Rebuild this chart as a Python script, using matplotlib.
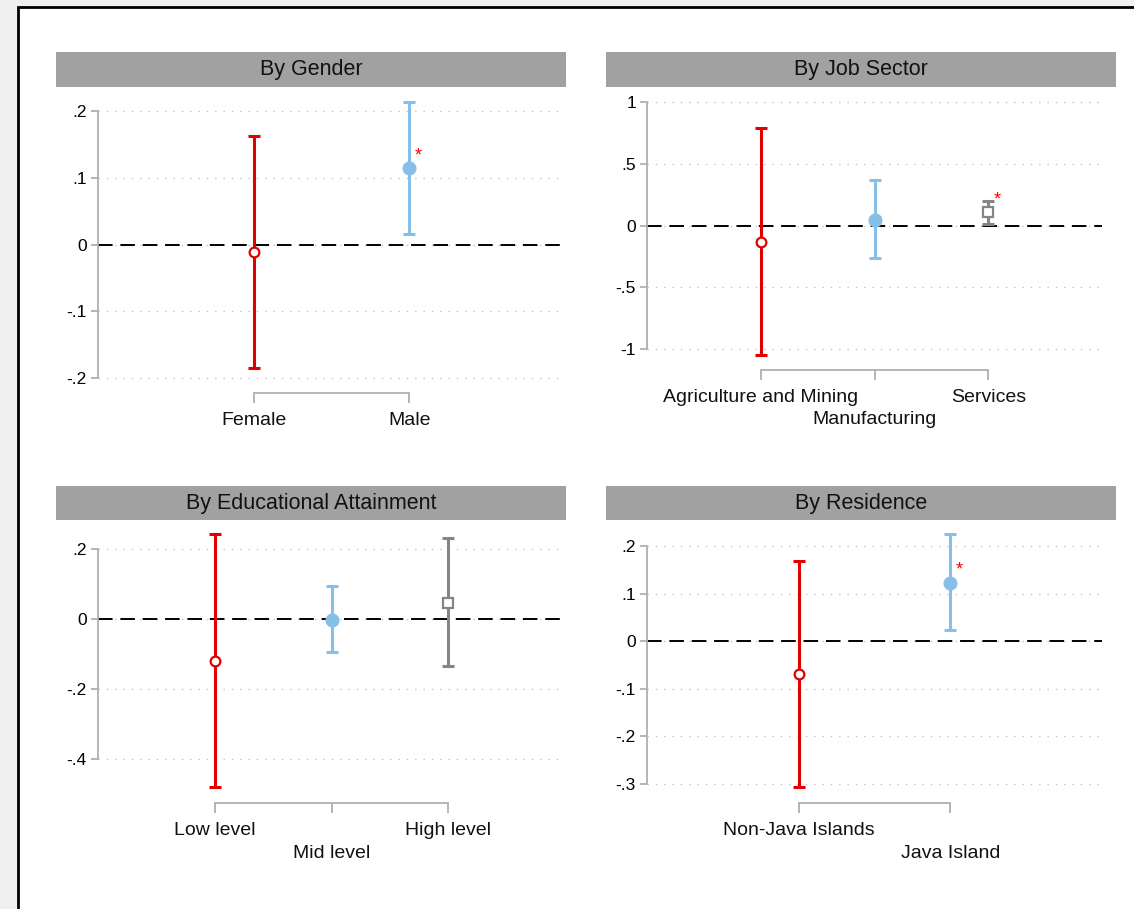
import matplotlib.pyplot as plt
from matplotlib.patches import Rectangle

plt.rcParams['font.family'] = ['Liberation Sans Narrow', 'Liberation Sans', 'DejaVu Sans']

W, H = 1134, 909

# ---- data ----
titles = ["By Gender", "By Job Sector", "By Educational Attainment", "By Residence"]

gender_labels = ["Female", "Male"]
gender_est = [-0.011, 0.114]
gender_lo = [-0.185, 0.015]
gender_hi = [0.163, 0.213]
gender_sig = [False, True]

sector_labels = ["Agriculture and Mining", "Manufacturing", "Services"]
sector_est = [-0.132, 0.046, 0.108]
sector_lo = [-1.047, -0.267, 0.011]
sector_hi = [0.786, 0.367, 0.200]
sector_sig = [False, False, True]

edu_labels = ["Low level", "Mid level", "High level"]
edu_est = [-0.121, -0.002, 0.047]
edu_lo = [-0.481, -0.095, -0.135]
edu_hi = [0.243, 0.093, 0.230]
edu_sig = [False, False, False]

res_labels = ["Non-Java Islands", "Java Island"]
res_est = [-0.069, 0.123]
res_lo = [-0.307, 0.023]
res_hi = [0.169, 0.225]
res_sig = [False, True]

gender_ticks = [-0.2, -0.1, 0, 0.1, 0.2]
gender_ticklabels = ["-.2", "-.1", "0", ".1", ".2"]
sector_ticks = [-1, -0.5, 0, 0.5, 1]
sector_ticklabels = ["-1", "-.5", "0", ".5", "1"]
edu_ticks = [-0.4, -0.2, 0, 0.2]
edu_ticklabels = ["-.4", "-.2", "0", ".2"]
res_ticks = [-0.3, -0.2, -0.1, 0, 0.1, 0.2]
res_ticklabels = ["-.3", "-.2", "-.1", "0", ".1", ".2"]

RED = "#e00000"
BLUE = "#86c0e8"
GRAY = "#858585"
styles = [
    dict(color=RED, marker="o", mfc="white", ms=7),
    dict(color=BLUE, marker="o", mfc=BLUE, ms=8.5),
    dict(color=GRAY, marker="s", mfc="white", ms=6.5),
]


def fig_rect(x0, y0, x1, y1):
    return [x0 / W, 1 - y1 / H, (x1 - x0) / W, (y1 - y0) / H]


fig = plt.figure(figsize=(W / 100, H / 100), dpi=100)
fig.patch.set_facecolor("#f0f0f0")
fig.patches.append(Rectangle((18 / W, -0.01), 1.1, 1 - 7 / H + 0.01,
                             transform=fig.transFigure, facecolor="white",
                             edgecolor="black", lw=2, zorder=-2))


def panel(title, bar, box, ylim, xmax, labels, est, lo, hi, sig, ticks, ticklabels, stagger):
    # title bar
    bx0, by0, bx1, by1 = bar
    fig.patches.append(Rectangle((bx0 / W, 1 - by1 / H), (bx1 - bx0) / W, (by1 - by0) / H,
                                 transform=fig.transFigure, facecolor="#a1a1a1",
                                 edgecolor="none", zorder=-1))
    fig.text((bx0 + bx1) / 2 / W, 1 - (by0 + by1) / 2 / H, title, ha="center", va="center",
             fontsize=15.5, color="#111111")

    ax = fig.add_axes(fig_rect(*box))
    ax.set_zorder(1)
    ax.set_facecolor("none")
    n = len(labels)
    xs = list(range(1, n + 1))
    ax.set_xlim(0, xmax)
    ax.set_ylim(*ylim)

    for t in ticks:
        ax.axhline(t, color="#c4c4c4", lw=1, ls=(0, (1, 5)), zorder=1)
    ax.axhline(0, color="black", lw=1.4, dashes=(7.5, 4), zorder=2)

    for i in range(n):
        st = styles[i]
        ax.errorbar(xs[i], est[i], yerr=[[est[i] - lo[i]], [hi[i] - est[i]]],
                    fmt="none", ecolor=st["color"], elinewidth=2.2, capsize=4.5,
                    capthick=2.2, zorder=3)
        ax.plot(xs[i], est[i], linestyle="none", marker=st["marker"], ms=st["ms"],
                mfc=st["mfc"], mec=st["color"], mew=1.6, zorder=4)
        if sig[i]:
            ax.annotate("*", (xs[i], est[i]), xytext=(6.5, 9), textcoords="offset points",
                        color="red", fontsize=13, ha="center", va="center")

    for s in ["top", "right"]:
        ax.spines[s].set_visible(False)
    ax.spines["left"].set_bounds(min(ticks), max(ticks))
    ax.spines["bottom"].set_bounds(1, n)
    for s in ["left", "bottom"]:
        ax.spines[s].set_color("#b0b0b0")
        ax.spines[s].set_linewidth(1.3)

    ax.set_yticks(ticks)
    ax.set_yticklabels(ticklabels)
    ax.set_xticks(xs)
    ax.set_xticklabels([])
    for i, lab in enumerate(labels):
        dy = -36 if (stagger and i % 2 == 1) else -19.5
        ax.annotate(lab, (xs[i], 0), xycoords=("data", "axes fraction"),
                    xytext=(0, dy), textcoords="offset points",
                    ha="center", va="center", fontsize=14, color="#111111")
    ax.tick_params(axis="y", length=5, width=1.3, color="#b0b0b0", labelsize=12.5, pad=3)
    ax.tick_params(axis="x", length=7, width=1.3, color="#b0b0b0")
    return ax


panel(titles[0], (56, 52, 566, 87), (98, 95, 565, 393), (-0.2225, 0.224), 3,
      gender_labels, gender_est, gender_lo, gender_hi, gender_sig,
      gender_ticks, gender_ticklabels, False)
panel(titles[1], (606, 52, 1116, 87), (647, 95, 1102, 370), (-1.17, 1.057), 4,
      sector_labels, sector_est, sector_lo, sector_hi, sector_sig,
      sector_ticks, sector_ticklabels, True)
panel(titles[2], (56, 486, 566, 520), (98, 528, 565, 803), (-0.526, 0.26), 4,
      edu_labels, edu_est, edu_lo, edu_hi, edu_sig,
      edu_ticks, edu_ticklabels, True)
panel(titles[3], (606, 486, 1116, 520), (647, 528, 1102, 803), (-0.34, 0.238), 3,
      res_labels, res_est, res_lo, res_hi, res_sig,
      res_ticks, res_ticklabels, True)

fig.savefig("out.png", dpi=100, facecolor=fig.get_facecolor())
